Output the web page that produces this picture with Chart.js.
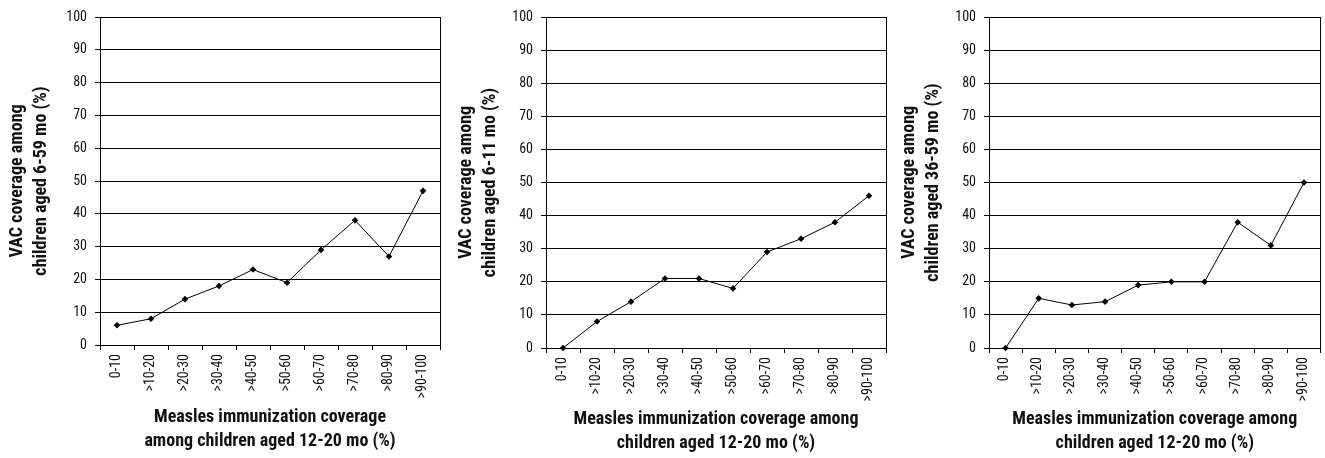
<!DOCTYPE html>
<html><head><meta charset="utf-8">
<script src="https://cdn.jsdelivr.net/npm/chart.js@4/dist/chart.umd.min.js"></script>
<style>
html,body{margin:0;padding:0;background:#fff;width:1325px;height:458px;overflow:hidden}
canvas{position:absolute;top:0}
</style></head><body>
<canvas id="c1" width="450" height="458" style="left:0px;width:450px;height:458px"></canvas>
<canvas id="c2" width="440" height="458" style="left:450px;width:440px;height:458px"></canvas>
<canvas id="c3" width="435" height="458" style="left:890px;width:435px;height:458px"></canvas>
<script>
// ---- data ----
const categories = ['0-10', '>10-20', '>20-30', '>30-40', '>40-50', '>50-60', '>60-70', '>70-80', '>80-90', '>90-100'];
const vacAged6to59 = [6, 8, 14, 18, 23, 19, 29, 38, 27, 47];
const vacAged6to11 = [0, 8, 14, 21, 21, 18, 29, 33, 38, 46];
const vacAged36to59 = [0, 15, 13, 14, 19, 20, 20, 38, 31, 50];
const yMin = 0, yMax = 100, yStep = 10;

const yTitle1 = ['VAC coverage among', 'children aged 6-59 mo (%)'];
const yTitle2 = ['VAC coverage among', 'children aged 6-11 mo (%)'];
const yTitle3 = ['VAC coverage among', 'children aged 36-59 mo (%)'];
const xTitle1 = ['Measles immunization coverage', 'among children aged 12-20 mo (%)'];
const xTitle2 = ['Measles immunization coverage among', 'children aged 12-20 mo (%)'];
const xTitle3 = ['Measles immunization coverage among', 'children aged 12-20 mo (%)'];

const FONT = "'Roboto Condensed', 'Open Sans Condensed', sans-serif";
const TEXT = '#111';

function buildChart(id, values, yTitle, xTitle, g) {
  return new Chart(document.getElementById(id), {
    type: 'line',
    data: {
      labels: categories,
      datasets: [{
        data: values,
        borderColor: '#000',
        borderWidth: 1,
        backgroundColor: '#000',
        pointStyle: 'rectRot',
        pointRadius: 3.3,
        pointBorderWidth: 0,
        pointBackgroundColor: '#000',
        tension: 0,
        fill: false,
        clip: false
      }]
    },
    options: {
      responsive: false,
      animation: false,
      devicePixelRatio: 1,
      layout: { padding: { top: 17, left: 0, right: g.right, bottom: g.bottom } },
      plugins: { legend: { display: false }, tooltip: { enabled: false } },
      scales: {
        x: {
          type: 'category',
          offset: true,
          grid: { display: true, offset: true, drawOnChartArea: false, drawTicks: true, tickLength: 5, color: '#000', lineWidth: 1 },
          border: { display: true, color: '#000', width: 1 },
          ticks: { autoSkip: false, maxRotation: 90, minRotation: 90, padding: 4, labelOffset: -1, color: TEXT, font: { family: FONT, size: 14 } },
          title: { display: true, text: xTitle, color: TEXT, font: { family: FONT, size: 18, weight: 'bold', lineHeight: 1.35 }, padding: { top: 0, bottom: 2 } },
          afterFit(s) { s.height = g.xHeight; }
        },
        y: {
          min: yMin, max: yMax,
          ticks: { stepSize: yStep, padding: 8, color: TEXT, font: { family: FONT, size: 14 } },
          grid: { color: '#000', lineWidth: 1, tickLength: 5, drawTicks: true },
          border: { display: true, color: '#000', width: 1 },
          title: { display: true, text: yTitle, color: TEXT, font: { family: FONT, size: 18, weight: 'bold', lineHeight: 1.35 }, padding: { top: g.yTitlePad, bottom: 0 } },
          afterFit(s) { s.width = g.yWidth; }
        },
        y2: {
          position: 'right', min: yMin, max: yMax,
          ticks: { display: false },
          grid: { display: false, drawTicks: false },
          border: { display: true, color: '#000', width: 1 },
          afterFit(s) { s.width = 0; }
        }
      }
    }
  });
}

buildChart('c1', vacAged6to59, yTitle1, xTitle1, { right: 10, bottom: 2, xHeight: 111, yWidth: 100, yTitlePad: 5 });
buildChart('c2', vacAged6to11, yTitle2, xTitle2, { right: 4, bottom: 0, xHeight: 110, yWidth: 96, yTitlePad: 4 });
buildChart('c3', vacAged36to59, yTitle3, xTitle3, { right: 1, bottom: 0, xHeight: 110, yWidth: 99, yTitlePad: 7 });
</script>
</body></html>
